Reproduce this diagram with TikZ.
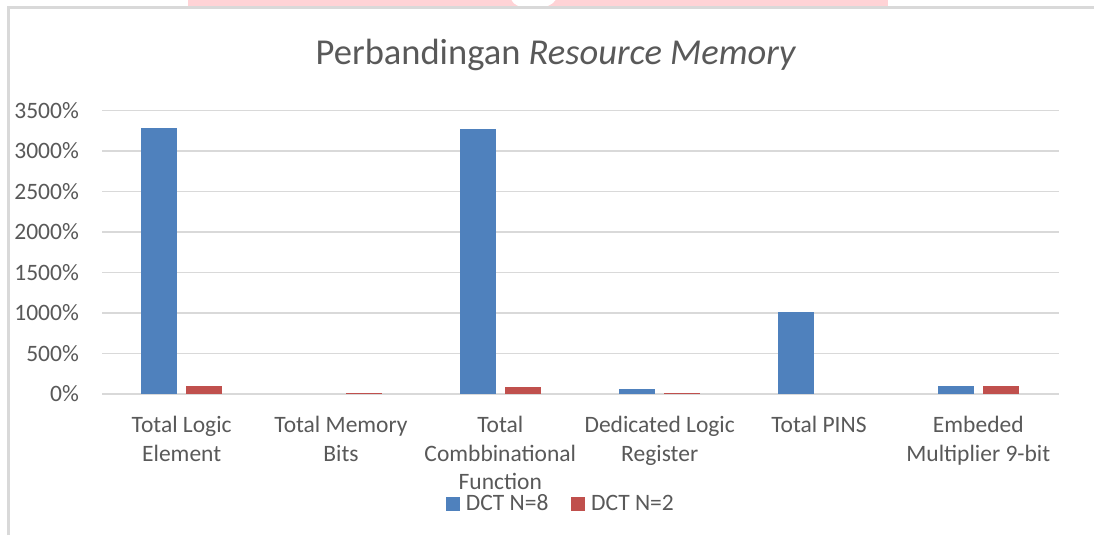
\documentclass[tikz,border=0pt]{standalone}
\usepackage{fontspec}
\setmainfont{Carlito}
\definecolor{barblue}{HTML}{4F81BD}
\definecolor{barred}{HTML}{C0504D}
\definecolor{gridgray}{HTML}{D9D9D9}
\definecolor{txtgray}{HTML}{595959}
\definecolor{wmpink}{HTML}{FFD3D6}
\tikzset{
  lbl/.style={anchor=base, inner sep=0pt, text=txtgray, font=\fontsize{23.5}{29}\selectfont},
  ticklbl/.style={anchor=east, inner sep=0pt, text=txtgray, font=\fontsize{23.5}{29}\selectfont},
  legtxt/.style={anchor=base west, inner sep=0pt, text=txtgray, font=\fontsize{23.5}{29}\selectfont},
  titletxt/.style={anchor=base, inner sep=0pt, text=txtgray, font=\fontsize{36.5}{44}\selectfont},
  gridline/.style={draw=gridgray, line width=1.6pt},
  frameline/.style={draw=gridgray, line width=2.5pt},
}
\begin{document}
\begin{tikzpicture}[x=1pt,y=-1pt]
\useasboundingbox[fill=white] (0,0) rectangle (1094,535);
% watermark band
\fill[wmpink] (188,0) rectangle (888,7.5);
\fill[white] (511.5,0) .. controls (514,5) and (518,7.5) .. (533,7.5) .. controls (548,7.5) and (552,5) .. (555.5,0) -- cycle;
% chart frame
\draw[frameline] (8.5,535) -- (8.5,7.5) -- (1094,7.5);
% title
\node[titletxt] (title) at (556,64.5) {Perbandingan \textit{Resource Memory}};
% gridlines and tick labels
\foreach \v [count=\i from 0] in {0\%,500\%,1000\%,1500\%,2000\%,2500\%,3000\%,3500\%}{
  \draw[gridline] (102,394-40.5*\i) -- (1059,394-40.5*\i);
  \node[ticklbl] (tick\i) at (79,394-40.5*\i) {\v};
}
% bars: category centre, blue value, red value (in %)
\foreach \c/\b/\r in {181.7/3283/95, 341/0/18, 500.3/3277/92, 659.7/60/12, 819/1018/0, 978.3/100/100}{
  \ifdim \b pt>0pt
    \fill[barblue] (\c-40.7,394) rectangle (\c-4.7,394-0.081*\b);
  \fi
  \ifdim \r pt>0pt
    \fill[barred] (\c+4.7,394) rectangle (\c+40.7,394-0.081*\r);
  \fi
}
% category labels
\node[lbl] (c1a) at (181.7,432) {Total Logic};
\node[lbl] (c1b) at (181.7,461) {Element};
\node[lbl] (c2a) at (341,432) {Total Memory};
\node[lbl] (c2b) at (341,461) {Bits};
\node[lbl] (c3a) at (500.3,432) {Total};
\node[lbl] (c3b) at (500.3,461) {Combbinational};
\node[lbl] (c3c) at (500.3,489) {Function};
% legend
\fill[barblue] (446,497) rectangle (460,511);
\node[legtxt] (leg1) at (465.7,510.5) {DCT N=8};
\fill[barred] (571,497) rectangle (585,511);
\node[legtxt] (leg2) at (591,510.5) {DCT N=2};
\node[lbl] (c4a) at (659.7,432) {Dedicated Logic};
\node[lbl] (c4b) at (659.7,461) {Register};
\node[lbl] (c5a) at (819,432) {Total PINS};
\node[lbl] (c6a) at (978.3,432) {Embeded};
\node[lbl] (c6b) at (978.3,461) {Multiplier 9-bit};
\end{tikzpicture}
\end{document}
